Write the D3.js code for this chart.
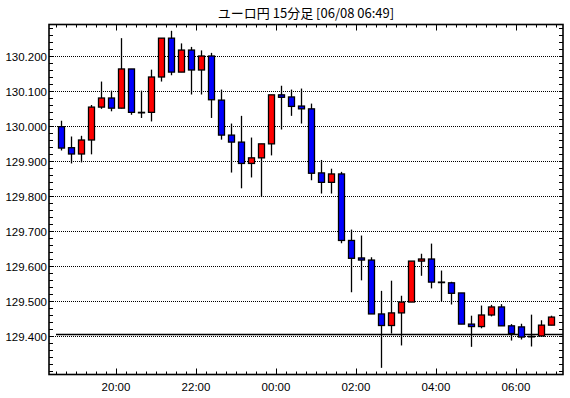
<!DOCTYPE html>
<html><head><meta charset="utf-8">
<script src="https://cdn.jsdelivr.net/npm/d3@7"></script>
<style>body{margin:0;background:#fff}svg{display:block}</style>
</head><body>
<svg id="c" width="570" height="398"></svg>
<script>
const title = "ユーロ円 15分足 [06/08 06:49]";
const times = ["18:30","18:45","19:00","19:15","19:30","19:45","20:00","20:15","20:30","20:45",
"21:00","21:15","21:30","21:45","22:00","22:15","22:30","22:45","23:00","23:15",
"23:30","23:45","00:00","00:15","00:30","00:45","01:00","01:15","01:30","01:45",
"02:00","02:15","02:30","02:45","03:00","03:15","03:30","03:45","04:00","04:15",
"04:30","04:45","05:00","05:15","05:30","05:45","06:00","06:15","06:30","06:45"];
const open = [129.998,129.938,129.920,129.960,130.054,130.080,130.051,130.163,130.039,130.039,
130.140,130.251,130.154,130.217,130.160,130.200,130.074,129.974,129.954,129.893,
129.909,129.949,130.089,130.083,130.057,130.049,129.866,129.839,129.863,129.673,
129.623,129.617,129.463,129.430,129.466,129.497,129.614,129.620,129.554,129.552,
129.523,129.434,129.427,129.460,129.483,129.429,129.426,129.398,129.400,129.431];
const high = [130.015,129.970,129.972,130.060,130.127,130.101,130.251,130.163,130.101,130.161,
130.251,130.272,130.236,130.226,130.216,130.209,130.104,130.007,130.029,129.967,
129.949,130.089,130.115,130.104,130.107,130.064,129.903,129.878,129.869,129.704,
129.687,129.625,129.529,129.558,129.515,129.614,129.635,129.664,129.587,129.555,
129.523,129.458,129.487,129.489,129.491,129.434,129.435,129.461,129.445,129.458];
const low = [129.930,129.893,129.896,129.919,130.049,130.042,130.050,130.032,130.023,130.013,
130.127,130.145,130.154,130.090,130.090,130.023,129.961,129.867,129.822,129.853,
129.797,129.916,129.990,130.029,130.007,129.845,129.807,129.807,129.665,129.525,
129.559,129.463,129.309,129.407,129.373,129.497,129.572,129.536,129.499,129.490,
129.434,129.369,129.422,129.456,129.429,129.387,129.390,129.370,129.400,129.431];
const close = [129.937,129.920,129.960,130.054,130.080,130.051,130.163,130.039,130.038,130.140,
130.251,130.154,130.217,130.160,130.200,130.075,129.974,129.954,129.893,129.909,
129.949,130.089,130.082,130.056,130.049,129.865,129.839,129.863,129.673,129.622,
129.617,129.463,129.430,129.466,129.497,129.614,129.620,129.554,129.553,129.522,
129.434,129.427,129.460,129.483,129.429,129.407,129.397,129.399,129.431,129.454];
const yTickValues = [130.2,130.1,130.0,129.9,129.8,129.7,129.6,129.5,129.4];
const xTickLabels = ["20:00","22:00","00:00","02:00","04:00","06:00"];
const refLine = 129.406;

const svg = d3.select("#c");
const L = 49, R = 563, T = 24.5, B = 374.5;
const parse = s => {
  const [h,m] = s.split(":").map(Number);
  const day = h >= 12 ? 7 : 8;
  return new Date(2023,5,day,h,m);
};
const x = d3.scaleTime()
  .domain([new Date(2023,5,7,18,19,30), new Date(2023,5,8,7,10,30)])
  .range([L, R]);
const y = d3.scaleLinear().domain([129.29,130.29]).range([B, T]);
const halfStep = 7.5*60*1000;

const data = times.map((t,i)=>({t:parse(t),o:open[i],h:high[i],l:low[i],c:close[i]}));

// gridlines
svg.append("g").selectAll("line").data(yTickValues).join("line")
  .attr("x1",L).attr("x2",R)
  .attr("y1",d=>Math.round(y(d))+0.5).attr("y2",d=>Math.round(y(d))+0.5)
  .attr("stroke","#000").attr("stroke-width",1).attr("stroke-dasharray","1,1")
  .attr("shape-rendering","crispEdges");

// reference line
svg.append("line")
  .attr("x1",x(parse("18:30"))).attr("x2",R)
  .attr("y1",Math.round(y(refLine))+0.5).attr("y2",Math.round(y(refLine))+0.5)
  .attr("stroke","#000").attr("stroke-width",1.3);

// candles
const g = svg.append("g");
data.forEach(d=>{
  const cx = Math.round(x(new Date(+d.t + halfStep)));
  g.append("line").attr("x1",cx+0.5).attr("x2",cx+0.5)
    .attr("y1",y(d.h)).attr("y2",y(d.l)).attr("stroke","#000").attr("stroke-width",1.3);
  const top = y(Math.max(d.o,d.c)), bot = y(Math.min(d.o,d.c));
  const col = d.c > d.o ? "#ff0000" : (d.c < d.o ? "#0000ff" : "#000");
  g.append("rect").attr("x",cx-2.5).attr("width",6)
    .attr("y",top).attr("height",Math.max(bot-top,0.5))
    .attr("fill",col).attr("stroke","#000").attr("stroke-width",1.3);
});

// frame
svg.append("rect").attr("x",L).attr("y",T).attr("width",R-L).attr("height",B-T)
  .attr("fill","none").attr("stroke","#000").attr("stroke-width",1.6);

// x ticks (every 15 min), long every 2 h
const xTicks = d3.timeMinute.every(15).range(x.domain()[0], x.domain()[1]);
const isMajor = d => d.getMinutes()===0 && d.getHours()%2===0;
const xt = svg.append("g");
xTicks.forEach(d=>{
  const xx = Math.round(x(d))+0.5;
  const len = isMajor(d) ? 6 : 3;
  xt.append("line").attr("x1",xx).attr("x2",xx).attr("y1",B).attr("y2",B-len).attr("stroke","#000");
  xt.append("line").attr("x1",xx).attr("x2",xx).attr("y1",T).attr("y2",T+len).attr("stroke","#000");
});
const fmt = d3.timeFormat("%H:%M");
svg.append("g").selectAll("text").data(xTicks.filter(d=>isMajor(d) && xTickLabels.includes(fmt(d))))
  .join("text").attr("x",d=>x(d)).attr("y",391).attr("text-anchor","middle")
  .attr("font-family","Liberation Sans, Arial, sans-serif").attr("font-size",11.5).text(d=>fmt(d));

// y ticks every 0.02
const yMinor = d3.range(0,51).map(i=>+(129.30+i*0.02).toFixed(2)).filter(v=>v<=130.28);
const yt = svg.append("g");
yMinor.forEach(v=>{
  const yy = Math.round(y(v))+0.5;
  yt.append("line").attr("x1",L).attr("x2",L+4).attr("y1",yy).attr("y2",yy).attr("stroke","#000");
  yt.append("line").attr("x1",R).attr("x2",R-4).attr("y1",yy).attr("y2",yy).attr("stroke","#000");
});
svg.append("g").selectAll("text").data(yTickValues).join("text")
  .attr("x",47).attr("y",d=>y(d)+4.5).attr("text-anchor","end")
  .attr("font-family","Liberation Sans, Arial, sans-serif").attr("font-size",11.5)
  .text(d=>d3.format(".3f")(d));

// title
svg.append("text").attr("x",(L+R)/2).attr("y",18).attr("text-anchor","middle")
  .attr("font-family","Noto Sans CJK JP, sans-serif").attr("font-size",13).text(title);
</script>
</body></html>
